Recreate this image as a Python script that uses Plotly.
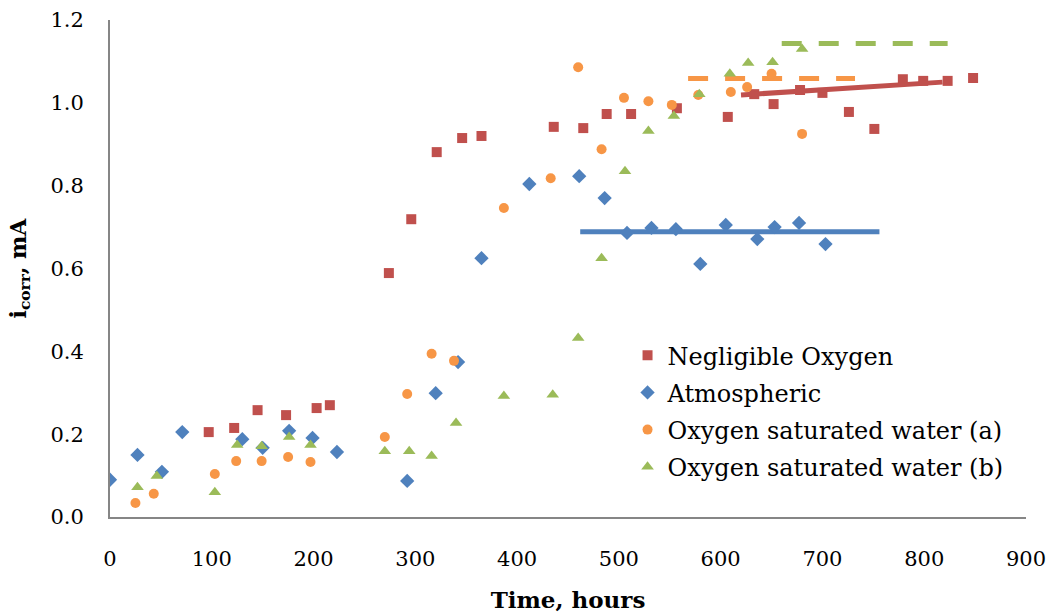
import plotly.graph_objects as go

# Corrosion current readings (hours, mA)
neg_x = [97, 122, 145, 173, 203, 216, 274, 296, 321, 346, 365, 436, 465, 488, 512,
         557, 607, 633, 652, 678, 700, 726, 751, 779, 799, 823, 848]
neg_y = [0.205, 0.215, 0.258, 0.246, 0.263, 0.270, 0.589, 0.719, 0.881, 0.915, 0.920,
         0.942, 0.939, 0.973, 0.973, 0.987, 0.966, 1.021, 0.997, 1.031, 1.024, 0.978,
         0.937, 1.057, 1.053, 1.053, 1.060]

atm_x = [0, 27, 51, 71, 130, 150, 176, 199, 223, 292, 320, 342, 365, 412, 461, 486,
         508, 532, 556, 580, 605, 636, 653, 677, 703]
atm_y = [0.090, 0.150, 0.109, 0.205, 0.188, 0.167, 0.208, 0.191, 0.157, 0.087, 0.299,
         0.374, 0.625, 0.804, 0.823, 0.770, 0.686, 0.698, 0.695, 0.611, 0.705, 0.671,
         0.700, 0.710, 0.659]

osa_x = [25, 43, 103, 124, 149, 175, 197, 270, 292, 316, 338, 387, 433, 460, 483, 505,
         529, 552, 578, 610, 626, 650, 680]
osa_y = [0.034, 0.056, 0.104, 0.135, 0.135, 0.145, 0.133, 0.193, 0.297, 0.394, 0.377,
         0.746, 0.818, 1.086, 0.888, 1.012, 1.004, 0.995, 1.019, 1.026, 1.038, 1.070,
         0.925]

osb_x = [27, 46, 103, 125, 149, 176, 197, 270, 294, 316, 340, 387, 435, 460, 483, 506,
         529, 554, 579, 609, 627, 651, 680]
osb_y = [0.072, 0.099, 0.060, 0.174, 0.171, 0.193, 0.174, 0.159, 0.159, 0.147, 0.227,
         0.292, 0.295, 0.432, 0.625, 0.835, 0.932, 0.968, 1.021, 1.070, 1.096, 1.098,
         1.130]

# Steady-state trend lines
trend_neg_x = [620, 818]
trend_neg_y = [1.019, 1.050]
trend_atm_x = [462, 756]
trend_atm_y = [0.689, 0.689]
trend_osa_x = [568, 732]
trend_osa_y = [1.059, 1.059]
trend_osb_x = [660, 823]
trend_osb_y = [1.143, 1.143]

x_ticks = [0, 100, 200, 300, 400, 500, 600, 700, 800, 900]
y_ticks = [0.0, 0.2, 0.4, 0.6, 0.8, 1.0, 1.2]

RED = "#C0504D"
BLUE = "#4F81BD"
ORANGE = "#F79646"
GREEN = "#9BBB59"
FONT = "DejaVu Serif"

fig = go.Figure()

# trend lines first so markers sit on top
fig.add_trace(go.Scatter(x=trend_atm_x, y=trend_atm_y, mode="lines",
                         line=dict(color=BLUE, width=5), showlegend=False, hoverinfo="skip"))
fig.add_trace(go.Scatter(x=trend_osa_x, y=trend_osa_y, mode="lines",
                         line=dict(color=ORANGE, width=5, dash="20px,17px"),
                         showlegend=False, hoverinfo="skip"))
fig.add_trace(go.Scatter(x=trend_osb_x, y=trend_osb_y, mode="lines",
                         line=dict(color=GREEN, width=5, dash="20px,17px"),
                         showlegend=False, hoverinfo="skip"))

fig.add_trace(go.Scatter(x=neg_x, y=neg_y, mode="markers", name="Negligible Oxygen",
                         legendgroup="a",
                         marker=dict(symbol="square", size=10, color=RED)))
fig.add_trace(go.Scatter(x=atm_x, y=atm_y, mode="markers", name="Atmospheric",
                         legendgroup="b",
                         marker=dict(symbol="diamond", size=11, color=BLUE)))
fig.add_trace(go.Scatter(x=osa_x, y=osa_y, mode="markers", name="Oxygen saturated water (a)",
                         legendgroup="c",
                         marker=dict(symbol="circle", size=10, color=ORANGE)))
fig.add_trace(go.Scatter(x=osb_x, y=osb_y, mode="markers", name="Oxygen saturated water (b)",
                         legendgroup="d",
                         marker=dict(symbol="triangle-up", size=11, color=GREEN)))

fig.add_trace(go.Scatter(x=trend_neg_x, y=trend_neg_y, mode="lines",
                         line=dict(color=RED, width=5), showlegend=False, hoverinfo="skip"))

fig.update_layout(
    width=1062, height=616,
    margin=dict(l=110, r=36, t=20, b=99),
    paper_bgcolor="white", plot_bgcolor="white",
    font=dict(family=FONT, size=21, color="black"),
    legend=dict(x=0.565, y=0.37, xanchor="left", yanchor="top",
                bgcolor="rgba(0,0,0,0)", font=dict(family=FONT, size=24),
                traceorder="grouped", tracegroupgap=3, itemwidth=30),
    xaxis=dict(range=[0, 900], tickvals=x_ticks, ticktext=[str(v) for v in x_ticks],
               showgrid=False, zeroline=False, showline=True, linecolor="#868686",
               linewidth=2, ticks="", ticklabelstandoff=22, automargin=False,
               title=dict(text="<b>Time, hours</b>", font=dict(size=23), standoff=22)),
    yaxis=dict(range=[0, 1.2], tickvals=y_ticks, ticktext=[f"{v:.1f}" for v in y_ticks],
               showgrid=False, zeroline=False, showline=True, linecolor="#868686",
               linewidth=2, ticks="", ticklabelstandoff=20, automargin=False,
               title=dict(text="<b>i<sub>corr</sub>, mA</b>", font=dict(size=22), standoff=18)),
)

fig.write_html("out.html")
